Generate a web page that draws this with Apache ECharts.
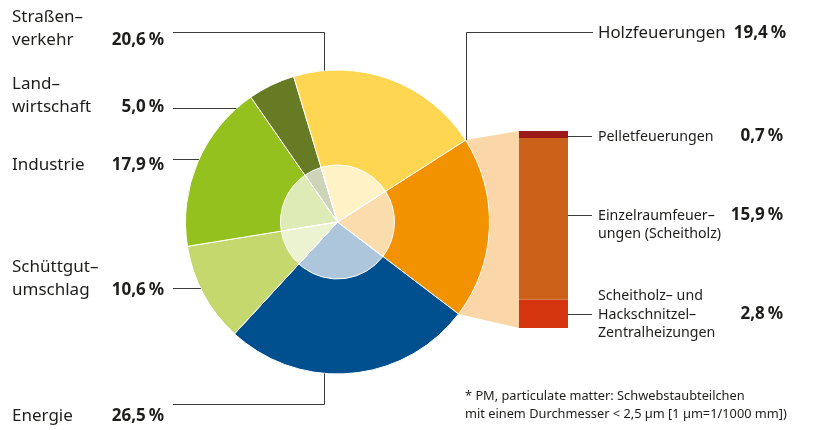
<!DOCTYPE html>
<html>
<head>
<meta charset="utf-8">
<script src="https://cdn.jsdelivr.net/npm/echarts@6/dist/echarts.min.js"></script>
<style>
    html, body { margin: 0; background: #fff; }
    #chart { width: 813px; height: 430px; }
</style>
</head>
<body>
<div id="chart"></div>
<script>
// Quellen PM2,5 (Anteile in %)
var sectors = ['Holzfeuerungen', 'Energie', 'Schüttgutumschlag', 'Industrie', 'Landwirtschaft', 'Straßenverkehr'];
var sectorLines = [['Holzfeuerungen'], ['Energie'], ['Schüttgut–', 'umschlag'], ['Industrie'], ['Land–', 'wirtschaft'], ['Straßen–', 'verkehr']];
var sectorShares = [19.4, 26.5, 10.6, 17.9, 5.0, 20.6];

// Aufteilung Holzfeuerungen (von unten nach oben gestapelt)
var woodTypes = ['Scheitholz- und Hackschnitzel-Zentralheizungen', 'Einzelraumfeuerungen (Scheitholz)', 'Pelletfeuerungen'];
var woodLines = [['Scheitholz– und', 'Hackschnitzel–', 'Zentralheizungen'], ['Einzelraumfeuer–', 'ungen (Scheitholz)'], ['Pelletfeuerungen']];
var woodShares = [2.8, 15.9, 0.7];

var footnote = ['* PM, particulate matter: Schwebstaubteilchen', 'mit einem Durchmesser < 2,5 µm [1 µm=1/1000 mm])'];

var sectorColors = ['#f39200', '#00508f', '#c5d86d', '#95c11f', '#667b24', '#fed652'];
var woodColors = ['#d4340e', '#cc6119', '#9d1a1b'];
var peach = '#fbd6a8';
var ink = '#1d1d1b';
var lineColor = '#3a3a3a';
var font = '"Noto Sans", "Open Sans", sans-serif';

var cx = 337.5, cy = 222, R = 152, r0 = 57;
var startAngle = 32.6;
var barLeft = 519, barWidth = 49, barTop = 131, barHeight = 197;

function fmt(v) {
    return v.toFixed(1).replace('.', ',') + '\u2009%';
}

var chart = echarts.init(document.getElementById('chart'));

var pieData = sectors.map(function (s, i) {
    return { name: s, value: sectorShares[i], itemStyle: { color: sectorColors[i] } };
});
var woodTotal = woodShares.reduce(function (a, b) { return a + b; }, 0);

chart.setOption({
    animation: false,
    grid: { left: barLeft, top: barTop, width: barWidth, height: barHeight },
    xAxis: { type: 'category', data: ['Holzfeuerungen'], show: false },
    yAxis: { type: 'value', min: 0, max: woodTotal, show: false },
    series: [
        {
            type: 'pie',
            center: [cx, cy],
            radius: R,
            startAngle: startAngle,
            clockwise: true,
            silent: true,
            label: { show: false },
            labelLine: { show: false },
            itemStyle: { borderColor: '#fff', borderWidth: 1 },
            data: pieData
        },
        {
            // hellere Innenscheibe
            type: 'pie',
            center: [cx, cy],
            radius: r0,
            startAngle: startAngle,
            clockwise: true,
            silent: true,
            label: { show: false },
            labelLine: { show: false },
            itemStyle: { color: 'rgba(255,255,255,0.68)', borderColor: '#fff', borderWidth: 1 },
            data: sectors.map(function (s, i) { return { name: s, value: sectorShares[i] }; })
        }
    ].concat(woodTypes.map(function (w, i) {
        return {
            type: 'bar',
            name: w,
            stack: 'holz',
            barWidth: '100%',
            silent: true,
            itemStyle: { color: woodColors[i] },
            data: [woodShares[i]]
        };
    }))
});

// Beschriftungen und Linien
var g = [];
function text(x, y, s, size, weight, align) {
    g.push({
        type: 'text', x: x, y: y, z: 10, silent: true,
        style: { text: s, fill: ink, fontFamily: font, fontSize: size, fontWeight: weight || 'normal', align: align || 'left', verticalAlign: 'middle' }
    });
}
function line(points) {
    g.push({ type: 'polyline', z: 10, silent: true, shape: { points: points }, style: { stroke: lineColor, lineWidth: 1, fill: null } });
}

// Verbindungsfläche von Holzfeuerungen zur Säule
var a0 = startAngle * Math.PI / 180;
var a1 = (startAngle - sectorShares[0] / 100 * 360) * Math.PI / 180;
var p0 = [cx + R * Math.cos(a0), cy - R * Math.sin(a0)];
var p1 = [cx + R * Math.cos(a1), cy - R * Math.sin(a1)];
var barTopPx = chart.convertToPixel({ gridIndex: 0 }, [0, woodTotal])[1];
var barBotPx = chart.convertToPixel({ gridIndex: 0 }, [0, 0])[1];
g.push({
    type: 'polygon', z: 0, silent: true,
    shape: { points: [[cx, cy], p0, [barLeft, barTopPx], [barLeft, barBotPx], p1] },
    style: { fill: peach }
});

// linke Beschriftungen
var leftLayout = {
    'Straßenverkehr': { textY: 40, lineY: 32.5, elbowX: 324.5 },
    'Landwirtschaft': { textY: 107, lineY: 108.5 },
    'Industrie': { textY: 165, lineY: 159.5 },
    'Schüttgutumschlag': { textY: 290, lineY: 288.5 },
    'Energie': { textY: 416, lineY: 404.5, elbowX: 324.5 }
};
sectors.forEach(function (s, i) {
    var L = leftLayout[s];
    if (!L) return;
    var n = sectorLines[i].length;
    sectorLines[i].forEach(function (t, j) {
        text(12, L.textY - (n - 1 - j) * 23, t, 17);
    });
    text(164, L.textY, fmt(sectorShares[i]), 17, 'bold', 'right');
    if (L.elbowX) {
        var dy = Math.sqrt(R * R - (L.elbowX - cx) * (L.elbowX - cx));
        var ey = L.lineY < cy ? cy - dy : cy + dy;
        line([[173, L.lineY], [L.elbowX, L.lineY], [L.elbowX, ey]]);
    } else {
        var ex = cx - Math.sqrt(R * R - (L.lineY - cy) * (L.lineY - cy));
        line([[173, L.lineY], [ex, L.lineY]]);
    }
});

// Holzfeuerungen
var hx = Math.round(p0[0]) + 0.5;
line([[hx, p0[1]], [hx, 32.5], [593, 32.5]]);
text(598, 33, sectorLines[0][0], 16.8);
text(786, 33, fmt(sectorShares[0]), 17, 'bold', 'right');

// Säulenbeschriftungen
var anchorLine = [1, 0, 0];
var shift = [0, -4, 1];
var base = 0;
woodShares.forEach(function (v, i) {
    var mid = chart.convertToPixel({ gridIndex: 0 }, [0, base + v / 2])[1];
    base += v;
    var y = Math.round(mid + shift[i]) + 0.5;
    line([[barLeft + barWidth, y], [592, y]]);
    woodLines[i].forEach(function (t, j) {
        text(598, y + (j - anchorLine[i]) * 18.5, t, 14.2);
    });
    text(783, y, fmt(v), 17, 'bold', 'right');
});

// Fußnote
footnote.forEach(function (t, j) {
    text(465, 396 + j * 18, t, 12.8);
});

chart.setOption({ graphic: { elements: g } });
</script>
</body>
</html>
